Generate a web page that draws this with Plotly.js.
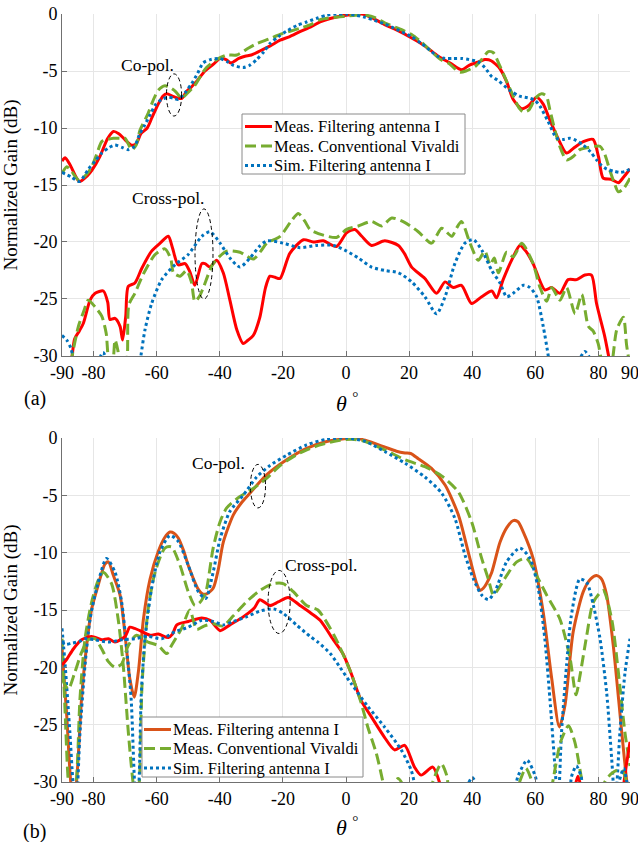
<!DOCTYPE html>
<html><head><meta charset="utf-8">
<script src="https://cdn.plot.ly/plotly-3.0.1.min.js"></script>
<style>body{margin:0;background:#fff}#chart{width:638px;height:842px}</style>
</head><body><div id="chart"></div>
<script>
// ---------- (a) co-pol ----------
const aCoFiltTheta = [-90,-89,-87.5,-84.5,-82,-80.5,-78,-75.5,-73.7,-72,-70.5,-68,-66.5,-65,-63,-61.5,-59.5,-58,-56.8,-55,-53,-52,-50.5,-49,-47,-44.7,-42,-40,-38,-36.5,-34,-32,-30,-27,-24,-20.9,-18,-14.6,-11,-8.2,-5,-2,0,2.5,5,8,12.4,16,20.8,25,29.2,33,36.7,39,42,44,46,48.8,51,53,55.7,58,60.4,62.5,64.6,67,69.9,72,75.2,78.3,80,81.5,84,86.3,88,90];
const aCoFiltGain = [-12.9,-12.6,-13.2,-14.7,-14.2,-13.7,-12.5,-10.9,-10.3,-10.5,-10.9,-11.5,-11.4,-10.5,-10.0,-9.1,-7.9,-7.2,-7.0,-7.2,-7.4,-7.4,-6.8,-6.4,-5.8,-5.0,-4.4,-3.9,-4.0,-4.3,-3.9,-3.7,-3.6,-3.2,-2.8,-2.3,-2.0,-1.55,-1.1,-0.7,-0.4,-0.2,-0.1,-0.05,0,-0.3,-0.95,-1.4,-2.1,-2.8,-3.7,-4.3,-4.9,-4.5,-4.2,-4.0,-4.1,-4.8,-6.0,-7.5,-8.3,-8.0,-7.3,-7.9,-9.3,-10.8,-12.2,-11.8,-11.2,-11.0,-12.5,-14.4,-14.5,-14.8,-14.3,-13.6];

const aCoConvTheta = [-90,-88.5,-87,-84.5,-82,-80.6,-79,-77.4,-75.5,-73.7,-71.5,-70,-67.9,-66.5,-65.3,-63,-61,-59.5,-57.4,-55.5,-54,-52.1,-50.5,-48,-46,-44.2,-41,-37.8,-34.6,-31,-28.3,-24.5,-20.9,-17.5,-14.6,-11,-8.2,-4,-1.9,0,3,6.1,9,12.4,16,20.8,24,27.1,30,32.4,34.5,36.1,38,40.9,43,45.1,46.7,48.5,50.9,53,55,56.2,58,60,62,63.5,64.6,66.5,68,69.9,72,74.1,77,80.5,82,83.6,85,86.3,88,90];
const aCoConvGain = [-14.0,-13.4,-13.8,-14.6,-14.0,-13.4,-12.3,-11.2,-11.0,-10.9,-10.9,-10.9,-11.9,-11.5,-10.2,-8.9,-7.5,-6.7,-6.3,-6.5,-6.8,-7.4,-7.0,-6.3,-5.4,-4.7,-4.0,-3.6,-3.6,-3.0,-2.6,-2.2,-1.8,-1.5,-1.25,-0.9,-0.5,-0.3,-0.25,-0.2,-0.1,-0.1,-0.3,-0.8,-1.2,-1.8,-2.5,-3.3,-4.0,-4.3,-4.8,-5.1,-5.0,-4.6,-4.0,-3.3,-3.4,-4.4,-5.9,-7.2,-8.3,-8.6,-8.4,-7.4,-7.0,-7.2,-8.4,-10.5,-11.8,-12.8,-12.5,-11.9,-11.7,-11.6,-12.3,-13.7,-14.8,-15.6,-15.3,-14.4];

const aCoSimTheta = [-90,-87,-84.5,-81.6,-79.5,-77.4,-75,-73.2,-71,-69,-67,-65.5,-63.7,-62,-60.5,-58.5,-56.3,-54.5,-53.2,-51,-48.9,-47,-45.3,-43,-40,-37.5,-35.7,-32.6,-30.5,-28.3,-26,-24.1,-21.5,-18.8,-15.5,-12.5,-9,-6.1,-3,0,3,6.1,9,12.4,16,20.8,24,27.1,29,31.4,34,36.7,39,41.9,44,46.2,48,51.9,55,58.3,60,61.5,64,66.8,69,71,73,75.2,77.5,79.4,81,82.6,85,86.8,88.5,90];
const aCoSimGain = [-13.9,-14.3,-14.7,-13.6,-12.9,-12.2,-11.7,-11.5,-11.7,-11.9,-11.6,-10.6,-9.7,-8.8,-8.0,-7.5,-7.3,-7.4,-7.5,-6.9,-6.1,-5.2,-4.3,-4.0,-3.9,-4.2,-4.5,-4.7,-4.5,-4.0,-3.3,-2.6,-2.0,-1.5,-1.0,-0.7,-0.35,-0.1,0,0,-0.1,-0.3,-0.55,-0.9,-1.35,-2.0,-2.6,-3.3,-3.7,-3.9,-3.9,-3.9,-4.0,-4.2,-4.7,-5.5,-5.8,-6.7,-7.2,-7.4,-7.6,-8.1,-9.4,-10.9,-11.0,-10.9,-11.1,-11.5,-12.1,-12.8,-13.3,-13.6,-13.8,-13.9,-13.8,-13.6];

// ---------- (a) cross-pol ----------
const aXFiltTheta = [-88,-86.8,-86,-84.5,-83.2,-81.1,-79.5,-76.9,-75.5,-74.8,-73.2,-71.6,-70.8,-69.8,-69,-66.9,-64.7,-61.6,-58.9,-56.3,-55,-53.2,-51,-49.5,-47.9,-45.7,-44.7,-43.1,-41,-38.9,-36.8,-34.6,-32.6,-31,-29.4,-27.3,-25.5,-24.1,-22.5,-20.9,-17.8,-13.5,-10.4,-7.2,-3.0,0.2,2.8,5,8.1,12.3,16.6,18.5,20.8,25,28.7,31.4,34,36.6,39.8,43,46.2,47.7,49.8,53,55.1,57,59.3,63,65.2,67.8,70.4,73.1,75.7,77.8,79.4,82.0,83.6,85];
const aXFiltGain = [-32,-30,-28.5,-27.8,-27.1,-25.1,-24.5,-24.3,-25.3,-26.8,-26.7,-27.4,-28.6,-26.5,-23.9,-23.6,-22.3,-20.8,-20.1,-19.5,-20.5,-22.0,-21.9,-22.6,-23.8,-21.9,-21.9,-22.2,-21.6,-22.7,-25.1,-27.7,-28.9,-28.6,-28.2,-26.6,-24.0,-23.0,-23.1,-23.2,-21.0,-19.8,-20.0,-19.9,-20.4,-19.2,-18.9,-19.5,-20.3,-19.9,-20.3,-21.0,-22.2,-23.2,-24.5,-23.5,-24.0,-23.8,-25.4,-24.8,-24.3,-24.9,-23.3,-21.3,-20.3,-20.8,-21.9,-24.2,-24.0,-24.5,-23.3,-23.3,-22.9,-22.9,-25.4,-28.3,-30.5,-32];

const aXConvTheta = [-88,-86.8,-84.8,-83,-81.7,-79.5,-77.4,-76,-75,-74,-73.2,-72.3,-71.5,-70,-69.3,-68.8,-66.9,-64.2,-60.5,-57.4,-55.5,-54.7,-52.6,-50.5,-49,-47.9,-46.5,-45.2,-42.1,-37.8,-33.6,-29.4,-27,-25.1,-20.9,-17.2,-15.1,-13,-11.4,-7.2,-3.0,0.2,3.9,8.1,11.3,14.5,18.7,22.9,27.1,30.3,33.5,35,36.6,39.3,41.9,44,45.7,47,48.3,50.9,53,55.7,59.3,61.5,63.6,65.2,67.8,69.9,72.6,74.7,76.8,78.3,79.9,81,82,84,85.8,87.9,88.9,90];
const aXConvGain = [-32,-30,-27.4,-26,-25.1,-25.7,-26.5,-28,-30.5,-30.5,-28.6,-29.5,-31,-31,-30,-25.5,-24.5,-22.8,-21.1,-20.6,-21.5,-22.7,-23.0,-22.5,-23.5,-25.2,-24.8,-24.0,-21.9,-20.8,-20.9,-21.5,-20.8,-20.1,-19.5,-18.1,-17.5,-18.2,-18.9,-19.4,-19.6,-18.9,-18.6,-18.2,-18.6,-17.9,-18.3,-19.1,-20.1,-18.8,-19.5,-18.8,-18.2,-20.1,-21.6,-20.8,-22.0,-21.4,-22.7,-20.9,-21.3,-20.1,-21.9,-24.0,-25.2,-24.0,-25.1,-24.0,-26.3,-24.6,-27.4,-27.8,-28.9,-30.5,-32,-31,-27.7,-26.6,-29,-31];

const aXSimTheta = [-90,-88.5,-87.2,-86,-80,-78.5,-77,-75.5,-74,-66,-65,-63.7,-61.6,-58.4,-54.2,-50,-45.7,-43.1,-39.9,-36.8,-33.6,-30.4,-27.5,-25.1,-19.9,-14.6,-9.3,-4.0,0.2,3.9,8.1,12.3,16.6,20.8,25,28.7,31.4,34.5,37.7,40.4,43,46.2,48.8,50.9,53,56.2,58.3,60.4,62.5,64.1,65,72,74,75.7,77.5,79];
const aXSimGain = [-28.2,-28.6,-29.3,-30.5,-32,-30.5,-29.7,-30.5,-32,-32,-30,-27.7,-25.4,-23.3,-22.0,-21.1,-19.5,-19.1,-20.1,-21.4,-22.2,-21.4,-20.4,-19.9,-20.1,-20.5,-20.3,-20.3,-20.8,-21.4,-22.2,-22.5,-22.7,-23.5,-24.8,-26.3,-24.8,-21.9,-20.1,-19.8,-20.7,-22.5,-23.6,-24.8,-24.5,-23.8,-24.0,-24.8,-27.4,-30,-32,-32,-30.3,-29.6,-30.3,-32];

// ---------- (b) co-pol ----------
const bCoFiltTheta = [-90,-88.5,-87.5,-86.5,-85.4,-83.8,-82.2,-80.6,-78.5,-76.4,-75.3,-73.7,-71.6,-70,-68.5,-67.1,-65.8,-64.2,-62.1,-59.5,-57.5,-55.8,-54.5,-53.2,-51.5,-50,-46.8,-45.5,-44.2,-42.1,-40.5,-38.9,-35.7,-33,-30.4,-25.1,-18.8,-12.5,-6.1,0.2,3,6.1,12.4,16,18.7,20.5,22.9,27.1,31.4,35.6,38.7,41.4,42.5,43.5,44.5,46.2,48.8,51,53,54.5,56.2,59.3,62.5,65.2,67.6,69.4,72,75.2,77.5,79.4,81,82.6,84.7,87.4,89,90];
const bCoFiltGain = [-18.3,-24.2,-29,-32,-30,-22.7,-18.1,-14.9,-12.8,-11.0,-10.8,-12.0,-13.7,-17.2,-21.0,-22.6,-20.4,-15.8,-12.3,-9.9,-8.7,-8.2,-8.3,-8.7,-9.8,-11.1,-13.2,-13.6,-13.6,-13.1,-11.5,-9.1,-6.7,-5.6,-4.8,-3.2,-1.9,-0.9,-0.3,-0.05,0,-0.2,-0.8,-1.15,-1.3,-1.35,-1.8,-2.65,-4.1,-6.7,-9.9,-12.7,-13.3,-13.1,-12.7,-11.7,-9.1,-7.8,-7.2,-7.3,-8.2,-10.5,-15.2,-21.0,-25.2,-23.3,-16.9,-13.4,-12.3,-12.0,-12.3,-13.7,-18.1,-25.7,-30,-32];

const bCoConvTheta = [-90,-89,-88,-87,-85.5,-84.3,-82.7,-80.6,-78.5,-76.9,-74.3,-72.2,-70.6,-69,-67.7,-66.5,-65.5,-64.6,-62.7,-60.5,-57.4,-55.3,-52.6,-50,-47.9,-46.5,-45.2,-44.2,-42.1,-39.9,-37.8,-33.6,-29.4,-25.1,-20.9,-14.6,-8.2,-1.9,2,6.1,12.4,18.7,25,30.3,35.6,39.8,43,45.1,46.7,47.7,50.9,54.1,57.2,60.4,63.6,67.8,71,72.9,74.1,76.3,78.4,81.5,84.2,86.3,88.4,90];
const bCoConvGain = [-17.5,-24,-30,-32,-30,-22.7,-17.5,-14.3,-12.4,-11.7,-12.7,-15.8,-19.8,-25.6,-29.5,-32,-30,-21.3,-14.9,-11.7,-9.6,-9.5,-11.1,-13.4,-14.6,-14.4,-13.9,-13.2,-9.6,-7.3,-6.1,-5.1,-4.4,-3.5,-2.4,-1.3,-0.6,-0.2,-0.1,-0.3,-1.05,-1.9,-2.5,-3.3,-4.7,-7.3,-10.5,-12.3,-13.7,-13.4,-12.0,-10.8,-10.5,-12.0,-13.7,-15.8,-19.2,-22.4,-20.8,-17.2,-14.3,-13.3,-15.8,-20.4,-25.7,-28.6];

const bCoSimTheta = [-90,-89,-87.5,-86.5,-85.5,-84.3,-82.7,-81.1,-79,-75.9,-73.2,-71.1,-69.6,-68.1,-67,-66.3,-65.6,-64.9,-63.7,-61.6,-58.9,-55.8,-53.2,-50,-46.8,-44.5,-42.1,-39.9,-36.8,-32.6,-28.3,-24.1,-18.8,-12.5,-6.1,0.2,6.1,12.4,18.7,25,30.3,34.5,37.7,40.4,43,45.1,47.2,50.9,55.1,58.3,60.9,63,64.6,66.2,67.2,68.3,69.9,71.4,74.1,76.3,78.4,80.5,82.6,84.2,85.3,86.8,88.4,90];
const bCoSimGain = [-16.6,-19.8,-25.7,-30,-32,-25.7,-19.8,-15.8,-13.1,-10.5,-11.7,-14.3,-18.1,-22.7,-30,-32,-30,-22.5,-17.5,-13.1,-9.9,-8.5,-9.0,-11.1,-13.4,-14.0,-11.7,-8.8,-6.4,-5.0,-3.4,-2.4,-1.5,-0.6,-0.1,0,-0.3,-1.2,-2.2,-3.4,-4.8,-7.0,-10.2,-12.3,-13.7,-14.1,-13.4,-10.8,-9.6,-10.5,-13.1,-17.5,-22.7,-28.6,-32,-25.7,-19.8,-15.5,-12.3,-12.6,-14.6,-17.5,-22.2,-28,-32,-25.7,-20.5,-17.5];

// ---------- (b) cross-pol ----------
const bXFiltTheta = [-90,-88.5,-86.4,-83.8,-80.6,-77.4,-75.3,-73.2,-70,-68.5,-67,-65.3,-62.1,-59.5,-56.3,-55,-53.6,-50,-45.7,-43.1,-39.9,-36.8,-32.6,-29,-27.3,-24.1,-21.5,-18.3,-14.6,-11,-8.2,-4,-1,1.6,4.8,8,12.2,15.4,18.6,21.7,23.8,27.5,29.6,31,70,72,73.5,75,77,86,87.5,88.8,90];
const bXFiltGain = [-19.8,-19.3,-18.4,-17.6,-17.3,-17.6,-17.5,-17.8,-17.3,-16.5,-16.6,-16.8,-17.2,-17.1,-17.4,-17.1,-16.3,-16.0,-15.7,-15.9,-16.8,-16.3,-15.6,-14.8,-14.1,-14.6,-14.3,-13.9,-14.6,-15.3,-15.9,-17.6,-18.8,-20.5,-22.9,-24.3,-26.1,-27.2,-26.8,-28.7,-29.4,-28.7,-30,-32,-32,-31,-29.5,-31,-32,-32,-31,-28.6,-26.5];

const bXConvTheta = [-90,-88,-86,-83.8,-81.7,-79.5,-77.4,-75.3,-73.2,-71.1,-69,-66.4,-62.7,-59.5,-56.8,-55.3,-52.1,-49.5,-47.3,-45,-42,-39,-35.7,-31.6,-27.3,-23,-19.9,-16.7,-12.5,-8.9,-3.6,1.6,4.8,6.9,9.6,11.7,13,14.5,16.5,18.5,20,26,27.5,30.2,32,33.5,53,55,57,59,61,64,65.5,68,70.5,72.5,74.5,76,80,82,84,86.5,88,89.5,90];
const bXConvGain = [-21.0,-21.9,-20.5,-18.7,-17.6,-17.5,-18.4,-19.5,-20.0,-19.7,-18.1,-17.2,-17.8,-18.1,-18.8,-18.1,-16.6,-15.0,-16.7,-16.4,-16.2,-16.4,-15.5,-14.3,-13.3,-12.7,-12.7,-13.4,-14.6,-15.0,-17.3,-20.5,-23.1,-25.2,-27.5,-30,-32,-30.5,-29.7,-30.5,-32,-32,-30,-28.4,-29.5,-32,-32,-30,-28.8,-30,-32,-32,-30,-26.5,-25.1,-26.5,-29.5,-32,-32,-30,-29.3,-28.9,-29.2,-31,-32];

const bXSimTheta = [-90,-89,-87,-84,-82.7,-79.5,-75.3,-71.1,-66.9,-62.7,-58.4,-54.2,-50,-45.7,-42.1,-38.9,-35.7,-31.6,-27.3,-23,-19.9,-15.7,-11.4,-8.9,-5,-1.9,1.6,6.9,12.2,17.5,20.7,22,23.5,37,38.5,40,41.5,43,52,54.5,57.4,60,62,70,71.5,73,74.5,76,85,86.5,88,89,90];
const bXSimGain = [-17.8,-18.0,-17.9,-17.7,-17.5,-17.6,-17.8,-17.6,-17.5,-17.3,-17.5,-16.9,-16.5,-15.9,-16.0,-16.3,-16.0,-15.6,-15.1,-14.9,-15.3,-16.3,-17.3,-17.8,-18.8,-20.0,-21.4,-23.4,-25.2,-27.2,-29,-30.5,-32,-32,-30.3,-29.6,-30.3,-32,-32,-29.5,-28.1,-29.5,-32,-32,-29.5,-28.6,-29.5,-32,-32,-30,-28.8,-30,-32];

// ---------- ticks & labels ----------
const xTickVals = [-90,-80,-60,-40,-20,0,20,40,60,80,90];
const xTickText = ['-90','-80','-60','-40','-20','0','20','40','60','80','90'];
const yTickVals = [0,-5,-10,-15,-20,-25,-30];
const yTickText = ['0','-5','-10','-15','-20','-25','-30'];
const seriesNames = ['Meas. Filtering antenna I','Meas. Conventional Vivaldi','Sim. Filtering antenna I'];

const FONT = 'Liberation Serif';
const RED = '#FF0000', ORANGE = '#D95319', GREEN = '#77AC30', BLUE = '#0072BD';
const solid = c => ({color:c, width:3});
const dashed = {color:GREEN, width:3, dash:'11px,5px'};
const dotted = {color:BLUE, width:3, dash:'dot'};

function tr(x, y, line, name, xa, ya) {
  return {type:'scatter', mode:'lines', x:x, y:y, name:name,
    line:Object.assign({shape:'spline', smoothing:0.7}, line),
    xaxis:xa, yaxis:ya, showlegend:false, hoverinfo:'skip'};
}

const data = [
  tr(aCoFiltTheta, aCoFiltGain, solid(RED), seriesNames[0], 'x', 'y'),
  tr(aCoConvTheta, aCoConvGain, dashed, seriesNames[1], 'x', 'y'),
  tr(aCoSimTheta, aCoSimGain, dotted, seriesNames[2], 'x', 'y'),
  tr(aXFiltTheta, aXFiltGain, solid(RED), seriesNames[0], 'x', 'y'),
  tr(aXConvTheta, aXConvGain, dashed, seriesNames[1], 'x', 'y'),
  tr(aXSimTheta, aXSimGain, dotted, seriesNames[2], 'x', 'y'),
  tr(bCoFiltTheta, bCoFiltGain, solid(ORANGE), seriesNames[0], 'x2', 'y2'),
  tr(bCoConvTheta, bCoConvGain, dashed, seriesNames[1], 'x2', 'y2'),
  tr(bCoSimTheta, bCoSimGain, dotted, seriesNames[2], 'x2', 'y2'),
  tr(bXFiltTheta, bXFiltGain, solid(RED), seriesNames[0], 'x2', 'y2'),
  tr(bXConvTheta, bXConvGain, dashed, seriesNames[1], 'x2', 'y2'),
  tr(bXSimTheta, bXSimGain, dotted, seriesNames[2], 'x2', 'y2')
];

const axCommon = {
  showgrid:true, gridcolor:'#e6e6e6', gridwidth:1, zeroline:false,
  showline:true, linecolor:'#707070', linewidth:1,
  ticks:'inside', ticklen:5, tickcolor:'#707070', tickwidth:1,
  tickfont:{family:FONT, size:18, color:'#000'}, fixedrange:true
};
const xAx = (anchor) => Object.assign({}, axCommon, {range:[-90,90], tickmode:'array', tickvals:xTickVals, ticktext:xTickText,
  anchor:anchor, ticklabeloverflow:'allow'});
const yAx = (anchor, dom) => Object.assign({}, axCommon, {range:[-30,0], tickmode:'array', tickvals:yTickVals, ticktext:yTickText, anchor:anchor, domain:dom,
  title:{text:'Normalized Gain (dB)', font:{family:FONT, size:19, color:'#000'}}});

// pixel -> paper helpers (plot area: x 62..630, y 14..782)
const PX = p => (p - 62) / 568;
const PY = p => (782 - p) / 768;

const ann = (text, x, y, xref, yref, size, xanchor) => ({text:text, x:x, y:y, xref:xref, yref:yref, showarrow:false,
  font:{family:FONT, size:size, color:'#000'}, xanchor:xanchor || 'center', yanchor:'middle'});
const ell = (x0, x1, y0, y1, xref, yref) => ({type:'circle', xref:xref, yref:yref, x0:x0, x1:x1, y0:y0, y1:y1,
  line:{color:'#000', width:1, dash:'4px,3px'}});

// legend drawn as a box with line samples and labels
function legendParts(box, rows, lineX, textX, styles) {
  const shapes = [{type:'rect', xref:'paper', yref:'paper', x0:PX(box[0]), x1:PX(box[1]), y0:PY(box[3]), y1:PY(box[2]),
    fillcolor:'#fff', line:{color:'#8a8a8a', width:1}, layer:'above'}];
  const anns = [];
  rows.forEach((ry, i) => {
    shapes.push({type:'line', xref:'paper', yref:'paper', x0:PX(lineX[0]), x1:PX(lineX[1]), y0:PY(ry), y1:PY(ry),
      line:Object.assign({}, styles[i]), layer:'above'});
    anns.push(ann(seriesNames[i], PX(textX), PY(ry), 'paper', 'paper', 16.5, 'left'));
  });
  return {shapes, anns};
}
const legA = legendParts([242, 465, 114, 174], [126.5, 146, 165.5], [245, 272], 272, [solid(RED), dashed, dotted]);
const legB = legendParts([142, 363, 717, 777], [729.5, 748.5, 768], [144, 171], 171, [solid(ORANGE), dashed, dotted]);

const layout = {
  width:638, height:842, margin:{l:62, r:8, t:14, b:60},
  font:{family:FONT, size:18, color:'#000'},
  paper_bgcolor:'#fff', plot_bgcolor:'#fff', showlegend:false,
  xaxis: xAx('y'),
  yaxis: yAx('x', [0.5547, 1]),
  xaxis2: xAx('y2'),
  yaxis2: yAx('x2', [0, 0.4479]),
  annotations: [
    ann('Co-pol.', -62.75, -4.5, 'x', 'y', 17.5),
    ann('Cross-pol.', -56.4, -16.1, 'x', 'y', 17.5),
    ann('Co-pol.', -40.3, -2.15, 'x2', 'y2', 17.5),
    ann('Cross-pol.', -7.9, -11.05, 'x2', 'y2', 17.5),
    ann('(a)', PX(35), PY(398), 'paper', 'paper', 20),
    ann('(b)', PX(34), PY(831), 'paper', 'paper', 20),
    ann('<i>θ</i> <sup>°</sup>', PX(347), PY(402), 'paper', 'paper', 22),
    ann('<i>θ</i> <sup>°</sup>', PX(347), PY(826), 'paper', 'paper', 22)
  ].concat(legA.anns, legB.anns),
  shapes: [
    ell(-56.9, -52.1, -8.95, -5.25, 'x', 'y'),
    ell(-47.85, -42.15, -25.0, -17.1, 'x', 'y'),
    ell(-30.3, -25.5, -6.1, -2.3, 'x2', 'y2'),
    ell(-24.7, -17.7, -17.05, -11.55, 'x2', 'y2')
  ].concat(legA.shapes, legB.shapes)
};

Plotly.newPlot('chart', data, layout, {staticPlot:true, displayModeBar:false});
</script>
</body></html>
